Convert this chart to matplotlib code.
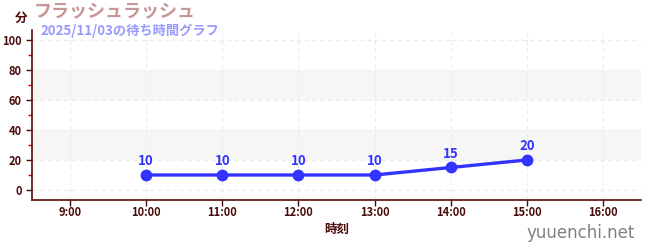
import matplotlib
matplotlib.use("Agg")
import matplotlib.pyplot as plt

plt.rcParams['font.family'] = ['Noto Sans CJK JP', 'DejaVu Sans']

hours = [10, 11, 12, 13, 14, 15]
waits = [10, 10, 10, 10, 15, 20]
xticks = [9, 10, 11, 12, 13, 14, 15, 16]
xticklabels = ["9:00", "10:00", "11:00", "12:00", "13:00", "14:00", "15:00", "16:00"]
yticks = [0, 20, 40, 60, 80, 100]
title = "フラッシュラッシュ"
subtitle = "2025/11/03の待ち時間グラフ"

dark = "#4a0a0a"
fig = plt.figure(figsize=(6.5, 2.5), dpi=100)
ax = fig.add_axes([32/650, 1-200/250, (641-32)/650, 170/250])
ax.set_xlim(8.5, 16.5)
ax.set_ylim(-6.67, 106.67)

for lo, hi in [(20, 40), (60, 80)]:
    ax.axhspan(lo, hi, color="#f6f6f6", zorder=0, lw=0)

ax.set_xticks(xticks)
ax.set_xticklabels(xticklabels)
ax.set_yticks(yticks)
ax.set_yticks([10, 30, 50, 70, 90], minor=True)
ax.grid(True, which="major", color="#ececec", linestyle=(0, (4, 3)), linewidth=0.8)
ax.tick_params(axis="x", which="major", pad=0)
ax.tick_params(axis="both", which="major", colors=dark, labelsize=8, length=4, width=1)
ax.tick_params(axis="y", which="minor", colors="#cc0000", length=3, width=1)
for lab in ax.get_xticklabels() + ax.get_yticklabels():
    lab.set_fontweight("bold")
for s in ["top", "right"]:
    ax.spines[s].set_visible(False)
for s in ["left", "bottom"]:
    ax.spines[s].set_color("#5a0a0a")
    ax.spines[s].set_linewidth(1.2)

ax.plot(hours, waits, color="#3333ff", lw=2.4, marker="o", markersize=7.5, zorder=5, clip_on=False)
for h, w in zip(hours, waits):
    ax.annotate(str(w), (h, w), xytext=(0, 5), textcoords="offset points",
                ha="center", va="bottom", color="#3333ff", fontsize=9.5, fontweight="bold")

ax.set_xlabel("時刻", color=dark, fontsize=9, fontweight="bold", labelpad=3)

fig.text(15/650, 1-18/250, "分", color=dark, fontsize=9, fontweight="bold", va="center", ha="left")
fig.text(34/650, 1-12/250, title, color="#c89595", fontsize=13, fontweight="bold", va="center", ha="left")
fig.text(40/650, 1-31/250, subtitle, color="#9999ff", fontsize=9.5, fontweight="bold", va="center", ha="left")
fig.text(635/650, 1-233/250, "yuuenchi.net", color="#808080", fontsize=12, va="center", ha="right",
         family=["DejaVu Sans"])

fig.savefig("out.png", dpi=100)
